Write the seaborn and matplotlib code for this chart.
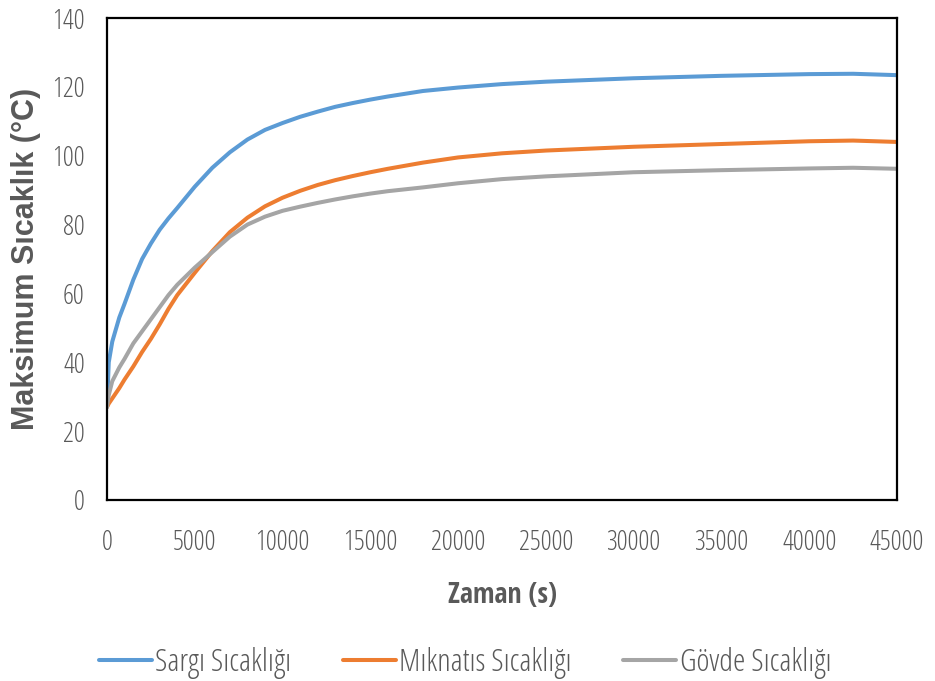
import numpy as np
import pandas as pd
import matplotlib
matplotlib.use("Agg")
import matplotlib.pyplot as plt
from matplotlib import font_manager
import seaborn as sns

# Time axis samples (s)
zaman = [0, 100, 300, 700, 1000, 1500, 2000, 2500, 3000, 3500, 4000, 5000,
         6000, 7000, 8000, 9000, 10000, 11000, 12000, 13000, 14000, 15000,
         16000, 18000, 20000, 22500, 25000, 30000, 35000, 40000, 42500, 45000]

# Maximum temperatures (°C)
sargi = [27, 40, 46, 53, 57, 64, 70, 74.5, 78.5, 81.8, 84.8, 91,
         96.5, 101, 104.7, 107.5, 109.5, 111.3, 112.8, 114.2, 115.3, 116.3,
         117.2, 118.8, 119.8, 120.8, 121.5, 122.5, 123.2, 123.7, 123.8, 123.4]
miknatis = [27, 28, 29.5, 32.5, 35, 38.8, 43, 46.8, 51, 55.5, 59.5, 66,
            72.3, 77.8, 82.0, 85.3, 87.8, 89.8, 91.5, 92.9, 94.1, 95.2,
            96.2, 98, 99.5, 100.7, 101.5, 102.6, 103.4, 104.2, 104.4, 104.0]
govde = [27, 30.5, 34.5, 38.5, 41, 45.5, 49, 52.5, 56, 59.5, 62.5, 67.5,
         72, 76.5, 80, 82.3, 84.0, 85.2, 86.3, 87.3, 88.2, 89,
         89.7, 90.8, 92, 93.2, 94, 95.2, 95.8, 96.3, 96.5, 96.2]

seri_adlari = ["Sargı Sıcaklığı", "Mıknatıs Sıcaklığı", "Gövde Sıcaklığı"]
renkler = ["#5B9BD5", "#ED7D31", "#A5A5A5"]

x_ticks = [0, 5000, 10000, 15000, 20000, 25000, 30000, 35000, 40000, 45000]
y_ticks = [0, 20, 40, 60, 80, 100, 120, 140]

df = pd.DataFrame({
    "Zaman": zaman * 3,
    "Sicaklik": sargi + miknatis + govde,
    "Seri": [seri_adlari[0]] * len(zaman) + [seri_adlari[1]] * len(zaman)
            + [seri_adlari[2]] * len(zaman),
})

sns.set_theme(style="white")

available = {f.name for f in font_manager.fontManager.ttflist}
# condensed faces: light text from the Open Sans family, bold from Open Sans Condensed
base = "Open Sans" if "Open Sans" in available else "DejaVu Sans"
bold_narrow = "Open Sans Condensed" if "Open Sans Condensed" in available else base
plt.rcParams["font.family"] = [base, "DejaVu Sans"]

text_color = "#595959"
light = dict(family=[base, "DejaVu Sans"], weight=300, stretch="condensed")

fig = plt.figure(figsize=(9.35, 6.81), dpi=100)
ax = fig.add_axes([107 / 935, 1 - 500 / 681, 790 / 935, 482 / 681])

sns.lineplot(data=df, x="Zaman", y="Sicaklik", hue="Seri", hue_order=seri_adlari,
             palette=renkler, linewidth=2.9, ax=ax, legend=True)

ax.set_xlim(0, 45000)
ax.set_ylim(0, 140)
ax.set_xticks(x_ticks)
ax.set_yticks(y_ticks)
ax.set_xticklabels([str(v) for v in x_ticks], fontsize=19.5, color=text_color, **light)
ax.set_yticklabels([str(v) for v in y_ticks], fontsize=19.5, color=text_color, **light)
ax.tick_params(axis="both", length=0)
ax.tick_params(axis="x", pad=21)
ax.tick_params(axis="y", pad=16)

for s in ax.spines.values():
    s.set_color("black")
    s.set_linewidth(1.6)
    s.set_visible(True)

ax.set_xlabel("Zaman (s)", fontsize=20, fontweight="bold", color=text_color,
              family=[bold_narrow, "DejaVu Sans"], stretch="condensed", labelpad=17)
ax.set_ylabel("Maksimum Sıcaklık (°C)", fontsize=22, fontweight="bold",
              color=text_color, family=["Liberation Sans", "DejaVu Sans"],
              stretch="normal", labelpad=8)

handles, labels = ax.get_legend_handles_labels()
ax.legend(handles, labels, loc="center", bbox_to_anchor=(465 / 935, 1 - 663 / 681),
          bbox_transform=fig.transFigure, ncol=3, frameon=False,
          prop=dict(family=[base, "DejaVu Sans"], weight=300, stretch="condensed", size=22.5),
          handlelength=1.7, handletextpad=0.1, columnspacing=1.65,
          labelcolor=text_color)

fig.savefig("out.png", dpi=100, facecolor="white")
